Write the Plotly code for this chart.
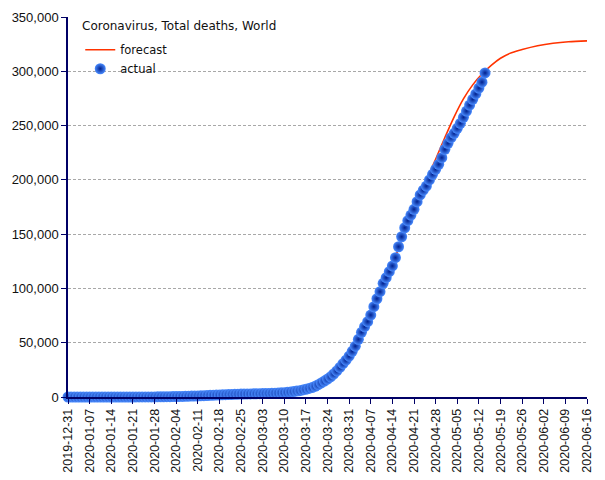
import pandas as pd
import plotly.graph_objects as go

# ---------------- data ----------------
actual_start = "2019-12-31"
actual_deaths = [
    0,                                             # Dec 31
    0, 0, 0, 0, 0, 0, 0, 0, 0, 0,                  # Jan 1-10
    1, 1, 1, 1, 1, 1, 2, 2, 3, 3,                  # Jan 11-20
    6, 17, 18, 26, 41, 56, 80, 106, 132, 170, 213,  # Jan 21-31
    259, 305, 362, 426, 492, 565, 638, 724, 813, 910,          # Feb 1-10
    1018, 1115, 1261, 1383, 1526, 1669, 1775, 1873, 2009, 2126,  # Feb 11-20
    2247, 2360, 2460, 2618, 2699, 2763, 2800, 2858, 2923,        # Feb 21-29
    2977, 3050, 3117, 3202, 3285, 3387, 3494, 3599, 3827, 4025,  # Mar 1-10
    4296, 4628, 4981, 5428, 5833, 6519, 7126, 7905, 8733, 9867,  # Mar 11-20
    11299, 12973, 14651, 16505, 18625, 21181, 23970, 27198, 30652, 33925, 37582,  # Mar 21-31
    42107, 46809, 53100, 59600, 64800, 69400, 75500, 83200, 90500, 97000,        # Apr 1-10
    104700, 109900, 115400, 120700, 128300, 138400, 147600, 155900, 162400, 167600,  # Apr 11-20
    172900, 179900, 186100, 190500, 194300, 199900, 205100, 209700, 214300, 220400,  # Apr 21-30
    228100, 233700, 238800, 242900, 247500, 252100, 257600, 263400, 268900, 274200,  # May 1-10
    279100, 284500, 290000, 298500,                                                  # May 11-14
]

forecast_dates = [
    "2019-12-31", "2020-01-21", "2020-02-04", "2020-02-18", "2020-03-03",
    "2020-03-10", "2020-03-17", "2020-03-20", "2020-03-24", "2020-03-28",
    "2020-04-01", "2020-04-05", "2020-04-09", "2020-04-13", "2020-04-17",
    "2020-04-21", "2020-04-25", "2020-04-28", "2020-05-01", "2020-05-04",
    "2020-05-07", "2020-05-10", "2020-05-13", "2020-05-16", "2020-05-19",
    "2020-05-22", "2020-05-26", "2020-05-31", "2020-06-05", "2020-06-10",
    "2020-06-16",
]
forecast_deaths = [
    0, 10, 450, 1900, 3200,
    4500, 8000, 11500, 18500, 28500,
    43000, 63000, 88000, 115000, 144000,
    172000, 200000, 219000, 239000, 258000,
    274500, 287500, 297500, 305500, 312000,
    316500, 320000, 323500, 325800, 327200,
    328000,
]

x_start = "2019-12-31"
x_end = "2020-06-16"
y_tick_values = [0, 50000, 100000, 150000, 200000, 250000, 300000, 350000]
legend_title = "Coronavirus, Total deaths, World"
series_names = ["forecast", "actual"]

actual_dates = pd.date_range(actual_start, periods=len(actual_deaths), freq="D")

# ---------------- figure ----------------
AXIS = "#000066"
fig = go.Figure()

fig.add_trace(go.Scatter(
    x=pd.to_datetime(forecast_dates), y=forecast_deaths,
    mode="lines", name=series_names[0],
    line=dict(color="#ff3300", width=1.6, shape="spline", smoothing=0.9),
))

fig.add_trace(go.Scatter(
    x=actual_dates, y=actual_deaths,
    mode="markers", name=series_names[1], cliponaxis=False,
    marker=dict(size=11, color="#4a8cff",
                gradient=dict(type="radial", color="#00208e"),
                line=dict(width=0)),
))

fig.update_layout(
    width=605, height=480,
    margin=dict(l=68, r=18, t=17, b=83, autoexpand=False),
    paper_bgcolor="white", plot_bgcolor="white",
    font=dict(family="Liberation Sans, Arial, sans-serif", size=12, color="#111111"),
    showlegend=True,
    legend=dict(
        x=0.0236, y=0.952, xanchor="left", yanchor="top",
        bgcolor="rgba(0,0,0,0)",
        font=dict(family="DejaVu Sans", size=11.5, color="#111111"),
        itemwidth=30, tracegroupgap=0,
    ),
    annotations=[dict(
        text=legend_title, xref="paper", yref="paper",
        x=(80 - 68) / 519, y=1 - (26 - 17) / 380, xanchor="left", yanchor="middle",
        showarrow=False, font=dict(family="DejaVu Sans", size=12, color="#111111"),
    )],
)

fig.update_xaxes(
    type="date", range=[x_start, x_end], automargin=False,
    tick0=x_start, dtick=7 * 24 * 3600 * 1000, tickformat="%Y-%m-%d",
    tickangle=-90, ticks="outside", ticklen=5, tickcolor=AXIS,
    showline=True, linecolor=AXIS, linewidth=1.5,
    showgrid=False, zeroline=False,
    tickfont=dict(family="Liberation Sans, Arial, sans-serif", size=12.5, color="#111111"),
)
fig.update_yaxes(
    range=[0, 350000], tickvals=y_tick_values, tickformat=",d", automargin=False,
    ticks="outside", ticklen=5, tickcolor=AXIS,
    showline=True, linecolor=AXIS, linewidth=1.5,
    showgrid=True, gridcolor="#a8a8a8", griddash="3px,2px", gridwidth=1,
    zeroline=False,
    tickfont=dict(family="Liberation Sans, Arial, sans-serif", size=13, color="#111111"),
)

fig.write_html("out.html")
